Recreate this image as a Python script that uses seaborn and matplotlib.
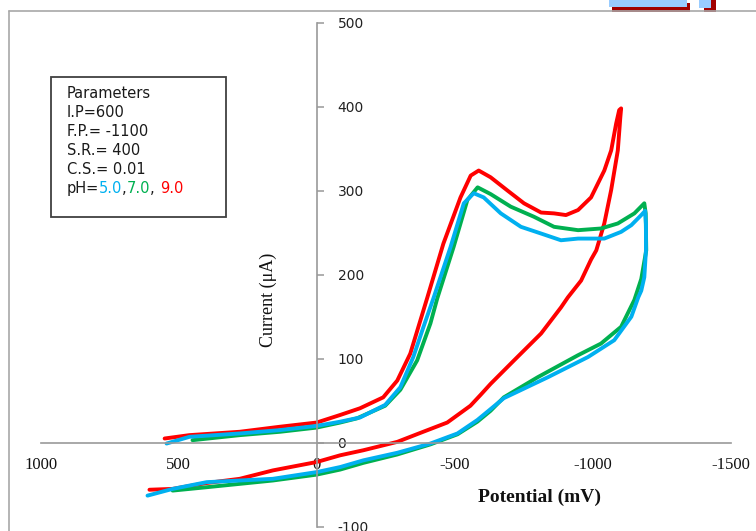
import matplotlib
matplotlib.use("Agg")
import matplotlib.pyplot as plt
import numpy as np
import pandas as pd
import seaborn as sns
from matplotlib.patches import Rectangle
from matplotlib.lines import Line2D

# ---------------- data ----------------
ph_values = ["9.0", "7.0", "5.0"]
ph_colors = ["#FF0000", "#00B050", "#00B0F0"]

e_ph9 = [551, 461, 279, 133, 0, -85, -157, -241, -292, -339, -376, -401, -459, -521, -558,
         -587, -630, -692, -751, -813, -860, -903, -947, -994, -1042, -1067, -1085, -1096,
         -1103, -1100, -1091, -1067, -1042, -1013, -994, -958, -910, -885, -813, -715, -630,
         -594, -557, -473, -386, -292, -169, -85, 0, 159, 279, 399, 522, 606]
i_ph9 = [5, 9, 13, 19, 24, 33, 41, 54, 74, 106, 146, 173, 237, 292, 318,
         324, 316, 300, 285, 274, 273, 271, 277, 292, 324, 348, 380, 396,
         398, 387, 348, 301, 261, 229, 218, 193, 173, 161, 130, 98, 70,
         57, 44, 24, 13, 1, -9, -15, -23, -33, -43, -48, -55, -56]

e_ph7 = [450, 279, 133, 0, -85, -146, -248, -303, -364, -412, -437, -496, -546, -583, -630,
         -703, -787, -860, -947, -1030, -1091, -1151, -1187, -1192, -1194, -1176, -1151,
         -1103, -1030, -946, -801, -678, -630, -582, -510, -412, -292, -169, -85, 0, 159,
         279, 399, 522]
i_ph7 = [3, 9, 13, 18, 24, 29, 44, 63, 98, 142, 172, 233, 289, 304, 296,
         281, 269, 257, 253, 255, 261, 273, 285, 273, 229, 195, 170,
         138, 118, 104, 78, 54, 38, 25, 10, -2, -14, -24, -32, -38, -45,
         -49, -53, -57]

e_ph5 = [544, 461, 279, 133, 0, -85, -157, -248, -303, -350, -387, -423, -485, -533, -569,
         -605, -667, -740, -813, -885, -947, -1042, -1103, -1140, -1176, -1190, -1193, -1193,
         -1187, -1176, -1165, -1140, -1078, -983, -838, -678, -630, -582, -510, -412, -292,
         -169, -85, 0, 159, 279, 399, 522, 613]
i_ph5 = [-1, 7, 11, 15, 20, 25, 30, 45, 66, 102, 138, 172, 233, 285, 297,
         292, 273, 257, 249, 241, 243, 243, 251, 259, 271, 276, 260, 229,
         197, 181, 173, 150, 122, 102, 78, 53, 40, 27, 11, -1, -12,
         -21, -29, -35, -43, -45, -47, -55, -63]

x_ticks = [1000, 500, 0, -500, -1000, -1500]
x_tick_labels = ["1000", "500", "0", "-500", "-1000", "-1500"]
y_ticks = [-100, 0, 100, 200, 300, 400, 500]
y_tick_labels = ["-100", "0", "100", "200", "300", "400", "500"]

param_lines = ["Parameters", "I.P=600", "F.P.= -1100", "S.R.= 400", "C.S.= 0.01"]
ph_text_parts = ["pH=", "5.0", ",", "7.0", ", ", "9.0"]
ph_text_colors = ["#1a1a1a", "#00B0F0", "#1a1a1a", "#00B050", "#1a1a1a", "#FF0000"]

x_label = "Potential (mV)"
y_label = "Current (\u03bcA)"

# ---------------- build frame ----------------
frames = []
for ph, e, i in zip(ph_values, [e_ph9, e_ph7, e_ph5], [i_ph9, i_ph7, i_ph5]):
    frames.append(pd.DataFrame({"E": e, "I": i, "pH": ph}))
df = pd.concat(frames, ignore_index=True)

sns.set_style("white")
plt.rcParams["font.family"] = ["DejaVu Sans"]
plt.rcParams["axes.unicode_minus"] = False

W, H = 756, 531
fig = plt.figure(figsize=(W / 100, H / 100), dpi=100)

def fx(px):
    return px / W

def fy(py):
    return 1 - py / H

ax = fig.add_axes([fx(40.7), fy(526.7), (730.7 - 40.7) / W, (526.7 - 22.7) / H])
ax.set_facecolor("none")

sns.lineplot(data=df, x="E", y="I", hue="pH", hue_order=ph_values,
             palette=dict(zip(ph_values, ph_colors)), sort=False, estimator=None,
             linewidth=2.8, legend=False, ax=ax)

ax.set_xlim(1000, -1500)
ax.set_ylim(-100, 500)
ax.set_xlabel("")
ax.set_ylabel("")

spine_col = "#999999"
ax.spines["left"].set_visible(False)
ax.spines["top"].set_visible(False)
ax.spines["right"].set_position(("data", 0))
ax.spines["bottom"].set_position(("data", 0))
for s in ("right", "bottom"):
    ax.spines[s].set_color(spine_col)
    ax.spines[s].set_linewidth(1.2)

ax.yaxis.tick_right()
ax.set_yticks(y_ticks)
ax.set_yticklabels(y_tick_labels)
ax.set_xticks(x_ticks)
ax.set_xticklabels(x_tick_labels)
ax.tick_params(axis="y", direction="out", length=5, width=1.1, color=spine_col,
               pad=10, labelsize=10, labelcolor="#222222")
ax.tick_params(axis="x", direction="out", length=3.5, width=1.1, color=spine_col,
               pad=7, labelsize=12, labelcolor="#111111")
for t in ax.get_xticklabels():
    t.set_fontfamily("Liberation Serif")
ax.grid(False)

# axis titles
fig.text(fx(540), fy(497), x_label, ha="center", va="center", fontsize=14,
         fontweight="bold", family="Liberation Serif", color="#111111")
fig.text(fx(268), fy(300), y_label, ha="center", va="center", fontsize=13,
         rotation=90, family="Liberation Serif", color="#111111")

# parameter box
fig.add_artist(Rectangle((fx(51), fy(217)), (225.7 - 51) / W, (217 - 77.3) / H,
                         transform=fig.transFigure, facecolor="white",
                         edgecolor="#404040", linewidth=1.3, zorder=2))
line_y = [93, 112.7, 131.7, 150.5, 169.5]
for txt, yy in zip(param_lines, line_y):
    fig.text(fx(66.7), fy(yy), txt, ha="left", va="center", fontsize=10.5,
             color="#1a1a1a", zorder=5)

renderer = fig.canvas.get_renderer()
cur_x = 66.7
for part, col in zip(ph_text_parts, ph_text_colors):
    t = fig.text(fx(cur_x), fy(188.5), part, ha="left", va="center",
                 fontsize=10.5, color=col, zorder=5)
    ext = t.get_window_extent(renderer)
    cur_x += ext.width

# outer chart border (Excel chart area)
fig.add_artist(Line2D([fx(9), 1], [fy(11), fy(11)], transform=fig.transFigure,
                      color="#a8a8a8", linewidth=1.2))
fig.add_artist(Line2D([fx(9), fx(9)], [0, fy(11)], transform=fig.transFigure,
                      color="#a8a8a8", linewidth=1.2))

# cropped decoration at top right
for (x0, y0, x1, y1, c) in [(612, 3, 690, 12, "#a00000"), (609, 0, 687, 7, "#99ccff"),
                            (704, 0, 716, 12, "#a00000"), (699, 0, 711, 8, "#99ccff")]:
    fig.add_artist(Rectangle((fx(x0), fy(y1)), (x1 - x0) / W, (y1 - y0) / H,
                             transform=fig.transFigure, facecolor=c, edgecolor="none"))

fig.savefig("out.png", dpi=100)
